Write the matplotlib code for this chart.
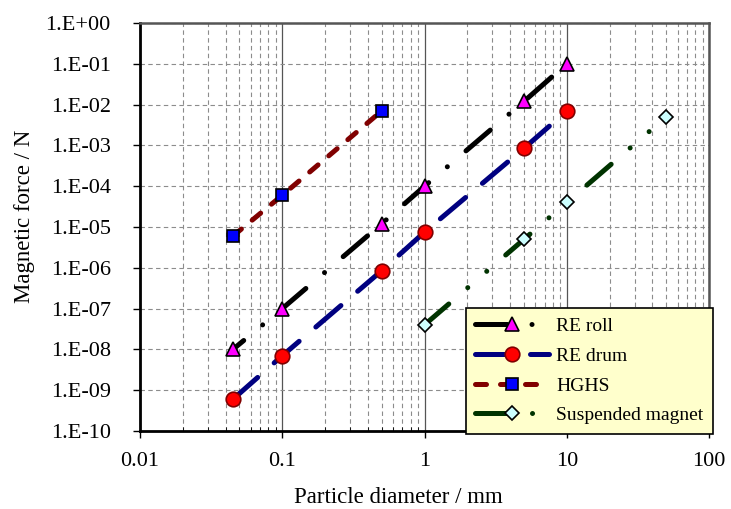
import matplotlib
matplotlib.use("Agg")
import matplotlib.pyplot as plt
import numpy as np
from matplotlib.lines import Line2D
from matplotlib.ticker import LogLocator, FuncFormatter, NullFormatter

plt.rcParams["font.family"] = ["Liberation Serif", "DejaVu Serif"]

# data
roll_d = [0.045, 0.1, 0.5, 1, 5, 10]
roll_f = [1e-8, 1e-7, 1.2e-5, 1e-4, 1.2e-2, 1e-1]
drum_d = [0.045, 0.1, 0.5, 1, 5, 10]
drum_f = [6e-10, 7e-9, 8.5e-7, 7.5e-6, 8.5e-4, 7e-3]
hghs_d = [0.045, 0.1, 0.5]
hghs_f = [6e-6, 6e-5, 7e-3]
susp_d = [1, 5, 10, 50]
susp_f = [4e-8, 5e-6, 4e-5, 5e-3]

fig = plt.figure(figsize=(7.31, 5.09), dpi=100)
ax = fig.add_axes([0.1915, 0.1532, 0.7785, 0.8016])
ax.set_xscale("log"); ax.set_yscale("log")
ax.set_xlim(0.01, 100); ax.set_ylim(1e-10, 1)

# grid
ax.xaxis.set_minor_locator(LogLocator(base=10, subs=np.arange(2, 10)))
ax.xaxis.set_minor_formatter(NullFormatter())
ax.yaxis.set_major_locator(LogLocator(base=10, numticks=20))
ax.yaxis.set_minor_locator(LogLocator(base=10, subs=[]))
ax.yaxis.set_minor_formatter(NullFormatter())
ax.grid(True, which="minor", axis="x", ls=(0, (4, 3)), color="#8c8c8c", lw=0.8)
ax.grid(True, which="major", axis="x", ls="-", color="#555555", lw=0.9)
ax.grid(True, which="major", axis="y", ls=(0, (4, 3)), color="#8c8c8c", lw=0.8)
ax.set_axisbelow(True)

lw = 3.6
ROLL = (0, (6.4, 4.9, 0.01, 4.9))
DRUM = (0, (6.6, 4.4))
HGHS = (0, (2.2, 2.8))
SUSP = (0, (6.4, 5, 0.01, 5, 0.01, 5))
styles = [
    dict(color="black", marker="^", ms=10, mfc="#ff00ff", mec="black"),
    dict(color="#000080", marker="o", ms=10.5, mfc="#ff0000", mec="#800000"),
    dict(color="#800000", marker="s", ms=8, mfc="#0000ff", mec="black"),
    dict(color="#003300", marker="D", ms=7.5, mfc="#ccffff", mec="black"),
]
dashes = [ROLL, DRUM, HGHS, SUSP]
offsets = [3.6, 0.0, 0.0, 0.0]
names = ["RE roll", "RE drum", "HGHS", "Suspended magnet"]
series = [(roll_d, roll_f), (drum_d, drum_f), (hghs_d, hghs_f), (susp_d, susp_f)]

for (d, f), st, ds, off in zip(series, styles, dashes, offsets):
    ax.plot(d, f, lw=lw, ls=(off, ds[1]), dash_capstyle="round", mew=1.2, **st)

handles = [Line2D([], [], lw=lw, ls=ds, dash_capstyle="round", mew=1.2, **st)
           for st, ds in zip(styles, dashes)]

ax.yaxis.set_major_formatter(FuncFormatter(lambda v, p: "1.E%+03d" % round(np.log10(v))))
ax.xaxis.set_major_formatter(FuncFormatter(lambda v, p: "%g" % v))
ax.tick_params(axis="both", which="major", labelsize=16, direction="out", length=5, width=1)
ax.tick_params(axis="y", which="major", pad=16)
ax.tick_params(axis="x", which="major", pad=10)
ax.tick_params(axis="x", which="minor", direction="in", length=3)

for s in ["left", "bottom"]:
    ax.spines[s].set_linewidth(2)
    ax.spines[s].set_color("black")
for s in ["top", "right"]:
    ax.spines[s].set_linewidth(1.8)
    ax.spines[s].set_color("#555555")

ax.set_xlabel("Particle diameter / mm", fontsize=16.5)
ax.set_ylabel("Magnetic force / N", fontsize=16.5)
ax.xaxis.set_label_coords(0.454, -0.138)
ax.yaxis.set_label_coords(-0.185, 0.527)

leg = ax.legend(handles, names, loc="lower right", bbox_to_anchor=(713 / 731, 1 - 434 / 509),
                bbox_transform=fig.transFigure, borderaxespad=0, fontsize=14, handlelength=3.8,
                frameon=True, fancybox=False, framealpha=1, borderpad=0.5, labelspacing=0.62,
                handletextpad=0.35)
leg.get_frame().set_facecolor("#ffffcc")
leg.get_frame().set_edgecolor("black")
leg.get_frame().set_linewidth(1.2)

fig.savefig("out.png", dpi=100)
